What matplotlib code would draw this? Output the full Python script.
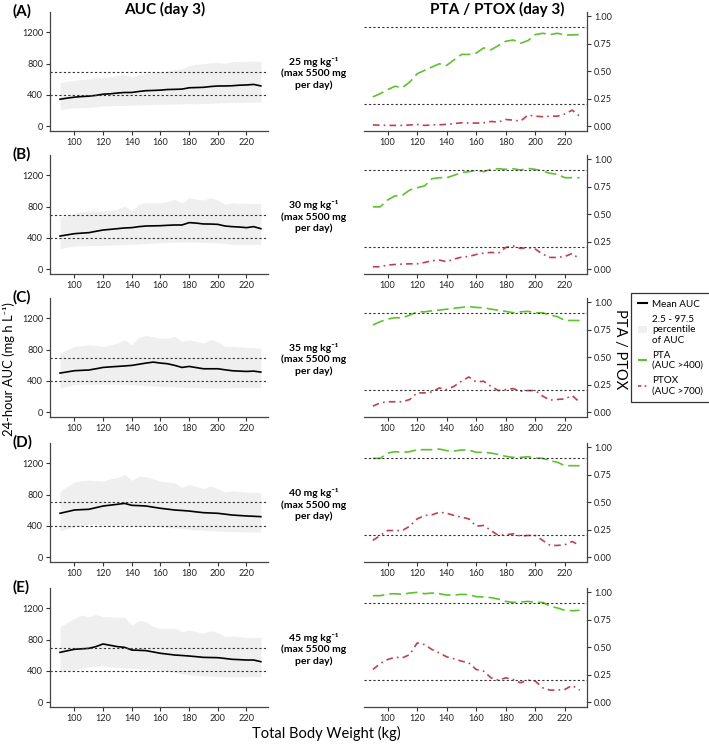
import matplotlib
matplotlib.use("Agg")
import matplotlib.pyplot as plt
from matplotlib.lines import Line2D
from matplotlib.patches import Patch

plt.rcParams['font.family'] = ['Lato', 'DejaVu Sans']

# total body weight (kg)
weight = list(range(90, 231, 5))

# mean AUC and 2.5 / 97.5 percentiles per dose (mg h/L)
mean_a = [346, 360, 372, 380, 385, 395, 410, 415, 425, 432, 432, 445, 455, 458, 462, 470, 472, 475, 492, 495, 498, 508, 515, 515, 518, 525, 528, 535, 516]
upper_a = [559, 575, 588, 597, 603, 612, 622, 635, 648, 666, 623, 660, 675, 685, 695, 710, 725, 735, 775, 790, 800, 810, 815, 805, 825, 828, 830, 832, 830]
lower_a = [216, 225, 235, 238, 240, 250, 258, 262, 266, 268, 270, 273, 276, 278, 280, 282, 285, 288, 290, 288, 290, 295, 300, 302, 305, 306, 308, 309, 310]

mean_b = [425, 440, 455, 462, 468, 485, 502, 510, 519, 528, 532, 545, 553, 555, 557, 562, 566, 566, 596, 590, 579, 578, 574, 553, 545, 540, 532, 545, 519]
upper_b = [660, 690, 715, 735, 745, 745, 745, 755, 766, 808, 745, 830, 850, 850, 850, 865, 894, 843, 915, 895, 885, 915, 885, 830, 850, 845, 843, 840, 838]
lower_b = [264, 282, 298, 300, 302, 304, 306, 310, 314, 317, 319, 325, 330, 335, 340, 343, 345, 347, 349, 346, 343, 341, 340, 330, 319, 319, 319, 319, 319]

mean_c = [501, 516, 531, 536, 540, 556, 573, 580, 586, 592, 599, 614, 629, 641, 629, 620, 599, 573, 586, 571, 556, 556, 556, 543, 531, 526, 522, 526, 514]
upper_c = [756, 800, 841, 852, 862, 852, 841, 862, 884, 926, 862, 956, 981, 964, 947, 947, 969, 905, 926, 905, 884, 926, 905, 841, 841, 835, 828, 824, 820]
lower_c = [310, 332, 353, 356, 358, 360, 361, 359, 357, 355, 353, 347, 342, 336, 331, 328, 325, 322, 319, 316, 313, 311, 310, 312, 315, 317, 319, 319, 319]

mean_d = [562, 583, 604, 609, 613, 634, 655, 666, 677, 689, 664, 660, 655, 640, 626, 615, 604, 598, 591, 580, 570, 566, 562, 551, 540, 534, 528, 524, 519]
upper_d = [847, 905, 962, 975, 987, 980, 974, 1004, 1017, 1060, 983, 1038, 1030, 1002, 974, 963, 953, 889, 932, 905, 877, 911, 877, 834, 847, 840, 834, 830, 826]
lower_d = [336, 364, 391, 406, 421, 415, 409, 409, 409, 409, 409, 405, 400, 395, 391, 382, 374, 366, 357, 352, 346, 341, 336, 333, 330, 326, 323, 323, 323]

mean_e = [638, 658, 677, 683, 689, 711, 745, 728, 711, 702, 668, 664, 660, 643, 626, 615, 604, 598, 591, 583, 574, 572, 570, 560, 549, 545, 540, 540, 519]
upper_e = [966, 1020, 1072, 1115, 1094, 1123, 1094, 1090, 1085, 1085, 987, 1043, 1030, 966, 945, 945, 945, 902, 923, 902, 881, 915, 889, 838, 847, 838, 830, 830, 830]
lower_e = [391, 402, 413, 434, 455, 460, 464, 455, 447, 440, 434, 428, 423, 418, 413, 397, 381, 365, 349, 344, 339, 333, 328, 328, 328, 328, 328, 328, 328]

# probability of target attainment (AUC > 400) and of toxicity (AUC > 700)
pta_a = [0.266, 0.296, 0.332, 0.363, 0.350, 0.402, 0.477, 0.508, 0.538, 0.568, 0.553, 0.604, 0.653, 0.653, 0.665, 0.713, 0.695, 0.734, 0.773, 0.785, 0.755, 0.779, 0.834, 0.846, 0.834, 0.846, 0.831, 0.831, 0.834]
ptox_a = [0.010, 0.008, 0.006, 0.006, 0.006, 0.010, 0.015, 0.006, 0.010, 0.012, 0.015, 0.022, 0.030, 0.028, 0.027, 0.030, 0.042, 0.036, 0.060, 0.054, 0.045, 0.100, 0.090, 0.085, 0.090, 0.090, 0.110, 0.145, 0.090]

pta_b = [0.567, 0.567, 0.630, 0.667, 0.673, 0.721, 0.742, 0.758, 0.824, 0.833, 0.833, 0.855, 0.879, 0.888, 0.900, 0.888, 0.909, 0.915, 0.909, 0.915, 0.903, 0.918, 0.909, 0.894, 0.873, 0.864, 0.833, 0.833, 0.833]
ptox_b = [0.021, 0.021, 0.036, 0.042, 0.045, 0.048, 0.048, 0.060, 0.076, 0.082, 0.067, 0.091, 0.109, 0.115, 0.133, 0.145, 0.152, 0.145, 0.197, 0.212, 0.188, 0.197, 0.182, 0.136, 0.106, 0.106, 0.115, 0.142, 0.091]

pta_c = [0.794, 0.824, 0.848, 0.860, 0.860, 0.884, 0.914, 0.914, 0.923, 0.930, 0.938, 0.946, 0.954, 0.963, 0.954, 0.951, 0.938, 0.929, 0.918, 0.906, 0.914, 0.918, 0.905, 0.905, 0.884, 0.870, 0.835, 0.835, 0.835]
ptox_c = [0.054, 0.084, 0.094, 0.094, 0.094, 0.115, 0.175, 0.175, 0.184, 0.220, 0.205, 0.235, 0.281, 0.320, 0.275, 0.281, 0.235, 0.196, 0.205, 0.214, 0.190, 0.196, 0.196, 0.145, 0.109, 0.115, 0.120, 0.150, 0.090]

pta_d = [0.900, 0.900, 0.948, 0.961, 0.955, 0.961, 0.979, 0.979, 0.979, 0.985, 0.970, 0.967, 0.976, 0.976, 0.955, 0.955, 0.948, 0.936, 0.918, 0.909, 0.909, 0.915, 0.903, 0.900, 0.879, 0.864, 0.833, 0.833, 0.833]
ptox_d = [0.152, 0.197, 0.242, 0.242, 0.242, 0.282, 0.348, 0.379, 0.385, 0.409, 0.400, 0.379, 0.364, 0.348, 0.282, 0.288, 0.242, 0.197, 0.203, 0.212, 0.191, 0.197, 0.197, 0.152, 0.106, 0.106, 0.112, 0.142, 0.106]

pta_e = [0.970, 0.970, 0.985, 0.988, 0.982, 0.994, 1.000, 0.988, 0.994, 0.988, 0.976, 0.976, 0.982, 0.979, 0.961, 0.958, 0.952, 0.939, 0.918, 0.909, 0.912, 0.918, 0.909, 0.909, 0.873, 0.858, 0.836, 0.833, 0.836]
ptox_e = [0.297, 0.352, 0.388, 0.409, 0.403, 0.433, 0.539, 0.524, 0.479, 0.448, 0.412, 0.394, 0.373, 0.358, 0.297, 0.282, 0.221, 0.200, 0.221, 0.206, 0.176, 0.200, 0.191, 0.130, 0.109, 0.109, 0.115, 0.152, 0.109]

panel_labels = ['(A)', '(B)', '(C)', '(D)', '(E)']
doses = [25, 30, 35, 40, 45]

means = [mean_a, mean_b, mean_c, mean_d, mean_e]
uppers = [upper_a, upper_b, upper_c, upper_d, upper_e]
lowers = [lower_a, lower_b, lower_c, lower_d, lower_e]
ptas = [pta_a, pta_b, pta_c, pta_d, pta_e]
ptoxs = [ptox_a, ptox_b, ptox_c, ptox_d, ptox_e]

W, H = 709, 745
fig = plt.figure(figsize=(W / 100, H / 100), dpi=100)

green = '#5DC32C'
red = '#C0404E'
band = '#EFEFEF'
dotc = '#333333'
tick_fs = 6.6

# panel top in pixels, common height
tops = [12, 155, 298, 443, 588]
ph = 119

for i in range(5):
    bottom = 1 - (tops[i] + ph) / H
    axl = fig.add_axes([50 / W, bottom, 218 / W, ph / H])
    axr = fig.add_axes([364 / W, bottom, 223 / W, ph / H])

    axl.fill_between(weight, lowers[i], uppers[i], color=band, lw=0)
    axl.plot(weight, means[i], color='black', lw=1.2)
    for yv in (400, 700):
        axl.axhline(yv, color=dotc, lw=0.8, dashes=(2, 2))
    axl.set_xlim(83, 235)
    axl.set_ylim(-60, 1460)
    axl.set_yticks([0, 400, 800, 1200])
    axl.set_xticks(range(100, 221, 20))
    axl.spines['top'].set_visible(False)
    axl.spines['right'].set_visible(False)

    axr.plot(weight, ptas[i], color=green, lw=1.2, dashes=(7, 3))
    axr.plot(weight, ptoxs[i], color=red, lw=1.2, dashes=(4, 2.5, 1, 2.5))
    for yv in (0.9, 0.2):
        axr.axhline(yv, color=dotc, lw=0.8, dashes=(2, 2))
    axr.set_xlim(84, 235)
    axr.set_ylim(-0.045, 1.04)
    axr.set_yticks([0, 0.25, 0.5, 0.75, 1.0])
    axr.set_yticklabels(['0.00', '0.25', '0.50', '0.75', '1.00'])
    axr.set_xticks(range(100, 221, 20))
    axr.yaxis.tick_right()
    axr.spines['top'].set_visible(False)
    axr.spines['left'].set_visible(False)

    for ax in (axl, axr):
        ax.set_facecolor('none')
        ax.tick_params(labelsize=tick_fs, length=3, width=0.8, pad=2, colors='#333333', labelcolor='#222222')
        for s in ax.spines.values():
            s.set_linewidth(0.9)
            s.set_color('#444444')

    fig.text(12 / W, 1 - (tops[i] - 1) / H, panel_labels[i], fontsize=11, fontweight='bold', va='center', ha='left')
    yc = 1 - (tops[i] + ph / 2 + 2) / H
    fig.text(314 / W, yc, '%d mg kg⁻¹\n(max 5500 mg\nper day)' % doses[i],
             fontsize=7.5, fontweight='bold', ha='center', va='center', linespacing=1.3)

fig.text(165 / W, 1 - 9 / H, 'AUC (day 3)', fontsize=11, fontweight='bold', ha='center', va='center')
fig.text(497 / W, 1 - 9 / H, 'PTA / PTOX (day 3)', fontsize=11, fontweight='bold', ha='center', va='center')
fig.text(9 / W, 1 - 369 / H, '24-hour AUC (mg h L⁻¹)', fontsize=9.4, rotation=90, ha='center', va='center')
fig.text(620 / W, 1 - 349 / H, 'PTA / PTOX', fontsize=10.5, rotation=270, ha='center', va='center')
fig.text(326 / W, 1 - 733 / H, 'Total Body Weight (kg)', fontsize=10.5, ha='center', va='center')

handles = [
    Line2D([], [], color='black', lw=1.5),
    Patch(facecolor=band, edgecolor='none'),
    Line2D([], [], color=green, lw=1.5, dashes=(7, 3)),
    Line2D([], [], color=red, lw=1.2, dashes=(2, 2, 1, 2)),
]
labels = ['Mean AUC', '2.5 - 97.5\npercentile\nof AUC', 'PTA\n(AUC >400)', 'PTOX\n(AUC >700)']
leg = fig.legend(handles, labels, loc='upper left', bbox_to_anchor=(631 / W, 1 - 293 / H),
                 fontsize=7.1, frameon=True, fancybox=False, handlelength=0.9, handletextpad=0.55,
                 borderpad=0.7, labelspacing=0.6, borderaxespad=0)
leg.get_frame().set_edgecolor('black')
leg.get_frame().set_linewidth(0.9)

fig.savefig('out.png', dpi=100)
